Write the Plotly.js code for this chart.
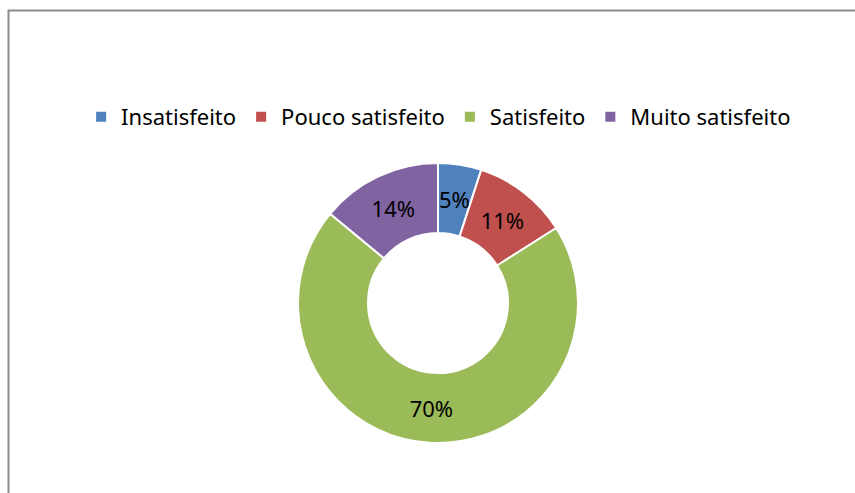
<!DOCTYPE html>
<html>
<head>
<meta charset="utf-8">
<script src="https://cdn.plot.ly/plotly-3.0.1.min.js"></script>
<style>html,body{margin:0;padding:0;background:#fff;}#chart{width:855px;height:493px;}</style>
</head>
<body>
<div id="chart"></div>
<script>
const categories = ["Insatisfeito", "Pouco satisfeito", "Satisfeito", "Muito satisfeito"];
const values = [5, 11, 70, 14];
const colors = ["#4F81BD", "#C0504D", "#9BBB59", "#8064A2"];

const W = 855, H = 493;
const cx = 438, cy = 303, r = 140;
const total = values.reduce((a, b) => a + b, 0);

// Small slices: Plotly would shrink their inside label, so draw them as annotations at the slice midpoint.
const smallIdx = values.map((v, i) => v / total < 0.08 ? i : -1).filter(i => i >= 0);
const templates = values.map((v, i) => smallIdx.includes(i) ? "" : "%{percent:.0%}");

const annotations = [];
let cum = 0;
values.forEach((v, i) => {
  const mid = (cum + v / 2) / total * 2 * Math.PI;
  cum += v;
  if (!smallIdx.includes(i)) return;
  const rr = r * 0.75;
  annotations.push({
    xref: "paper", yref: "paper",
    x: (cx + rr * Math.sin(mid)) / W,
    y: (H - (cy - rr * Math.cos(mid))) / H,
    text: Math.round(v / total * 100) + "%",
    showarrow: false,
    font: {family: "Noto Sans, sans-serif", size: 22, color: "#000000"}
  });
});

const trace = {
  type: "pie",
  labels: categories,
  values: values,
  sort: false,
  direction: "clockwise",
  rotation: 0,
  hole: 0.5,
  marker: {colors: colors, line: {color: "#ffffff", width: 2}},
  texttemplate: templates,
  textposition: "inside",
  insidetextorientation: "horizontal",
  textfont: {family: "Noto Sans, sans-serif", size: 22, color: "#000000"},
  domain: {x: [(cx - r) / W, (cx + r) / W], y: [(H - cy - r) / H, (H - cy + r) / H]},
  showlegend: true
};

const layout = {
  width: W, height: H,
  margin: {l: 0, r: 0, t: 0, b: 0},
  paper_bgcolor: "#ffffff",
  font: {family: "Noto Sans, sans-serif", color: "#000000"},
  legend: {
    orientation: "h",
    x: 0.513, xanchor: "center",
    y: (H - 117) / H, yanchor: "middle",
    font: {size: 22, color: "#000000"},
    traceorder: "normal",
    itemclick: false
  },
  annotations: annotations,
  shapes: [{
    type: "rect", xref: "paper", yref: "paper",
    x0: 8.5 / W, x1: 1.1, y0: -0.1, y1: 1 - 10.5 / H,
    line: {color: "#8c8c8c", width: 2}, fillcolor: "rgba(0,0,0,0)"
  }]
};

Plotly.newPlot("chart", [trace], layout, {displayModeBar: false, staticPlot: true});
</script>
</body>
</html>
